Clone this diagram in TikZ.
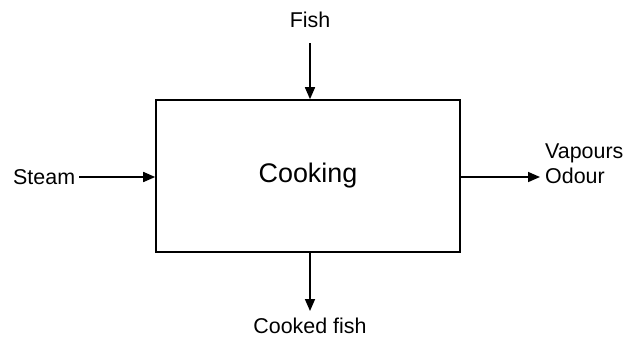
\documentclass[tikz,border=0pt]{standalone}
\usepackage{fontspec}
\setmainfont{Liberation Sans}
\usetikzlibrary{arrows.meta}
\begin{document}
\begin{tikzpicture}[x=1bp,y=-1bp,
  label/.style={font=\fontsize{21.5}{25}\selectfont, inner sep=0pt},
  flow/.style={line width=1.6bp, -{Triangle[length=12bp,width=10bp]}},
  process/.style={draw, line width=1.6bp, minimum width=304bp, minimum height=152bp,
                  inner sep=0pt, font=\fontsize{27}{32}\selectfont}]
  \useasboundingbox (0,0) rectangle (626,338);

  % process block
  \node[process] (cook) at (308,176) {Cooking};

  % streams in and out
  \node[label] (fish) at (310,20) {Fish};
  \coordinate (fishin) at (310,43);
  \node[label, anchor=west] (steam) at (13,177) {Steam};
  \coordinate (steamin) at (79,177);
  \coordinate (vapout) at (540,177);
  \node[label, anchor=west, align=left] (vap) at (545,164) {Vapours\\Odour};
  \coordinate (fishout) at (310,311);
  \node[label] (cooked) at (310,326) {Cooked fish};

  \draw[flow] (fishin) -- (fishin |- cook.north);
  \draw[flow] (steamin) -- (steamin -| cook.west);
  \draw[flow] (vapout -| cook.east) -- (vapout);
  \draw[flow] (fishout |- cook.south) -- (fishout);
\end{tikzpicture}
\end{document}
